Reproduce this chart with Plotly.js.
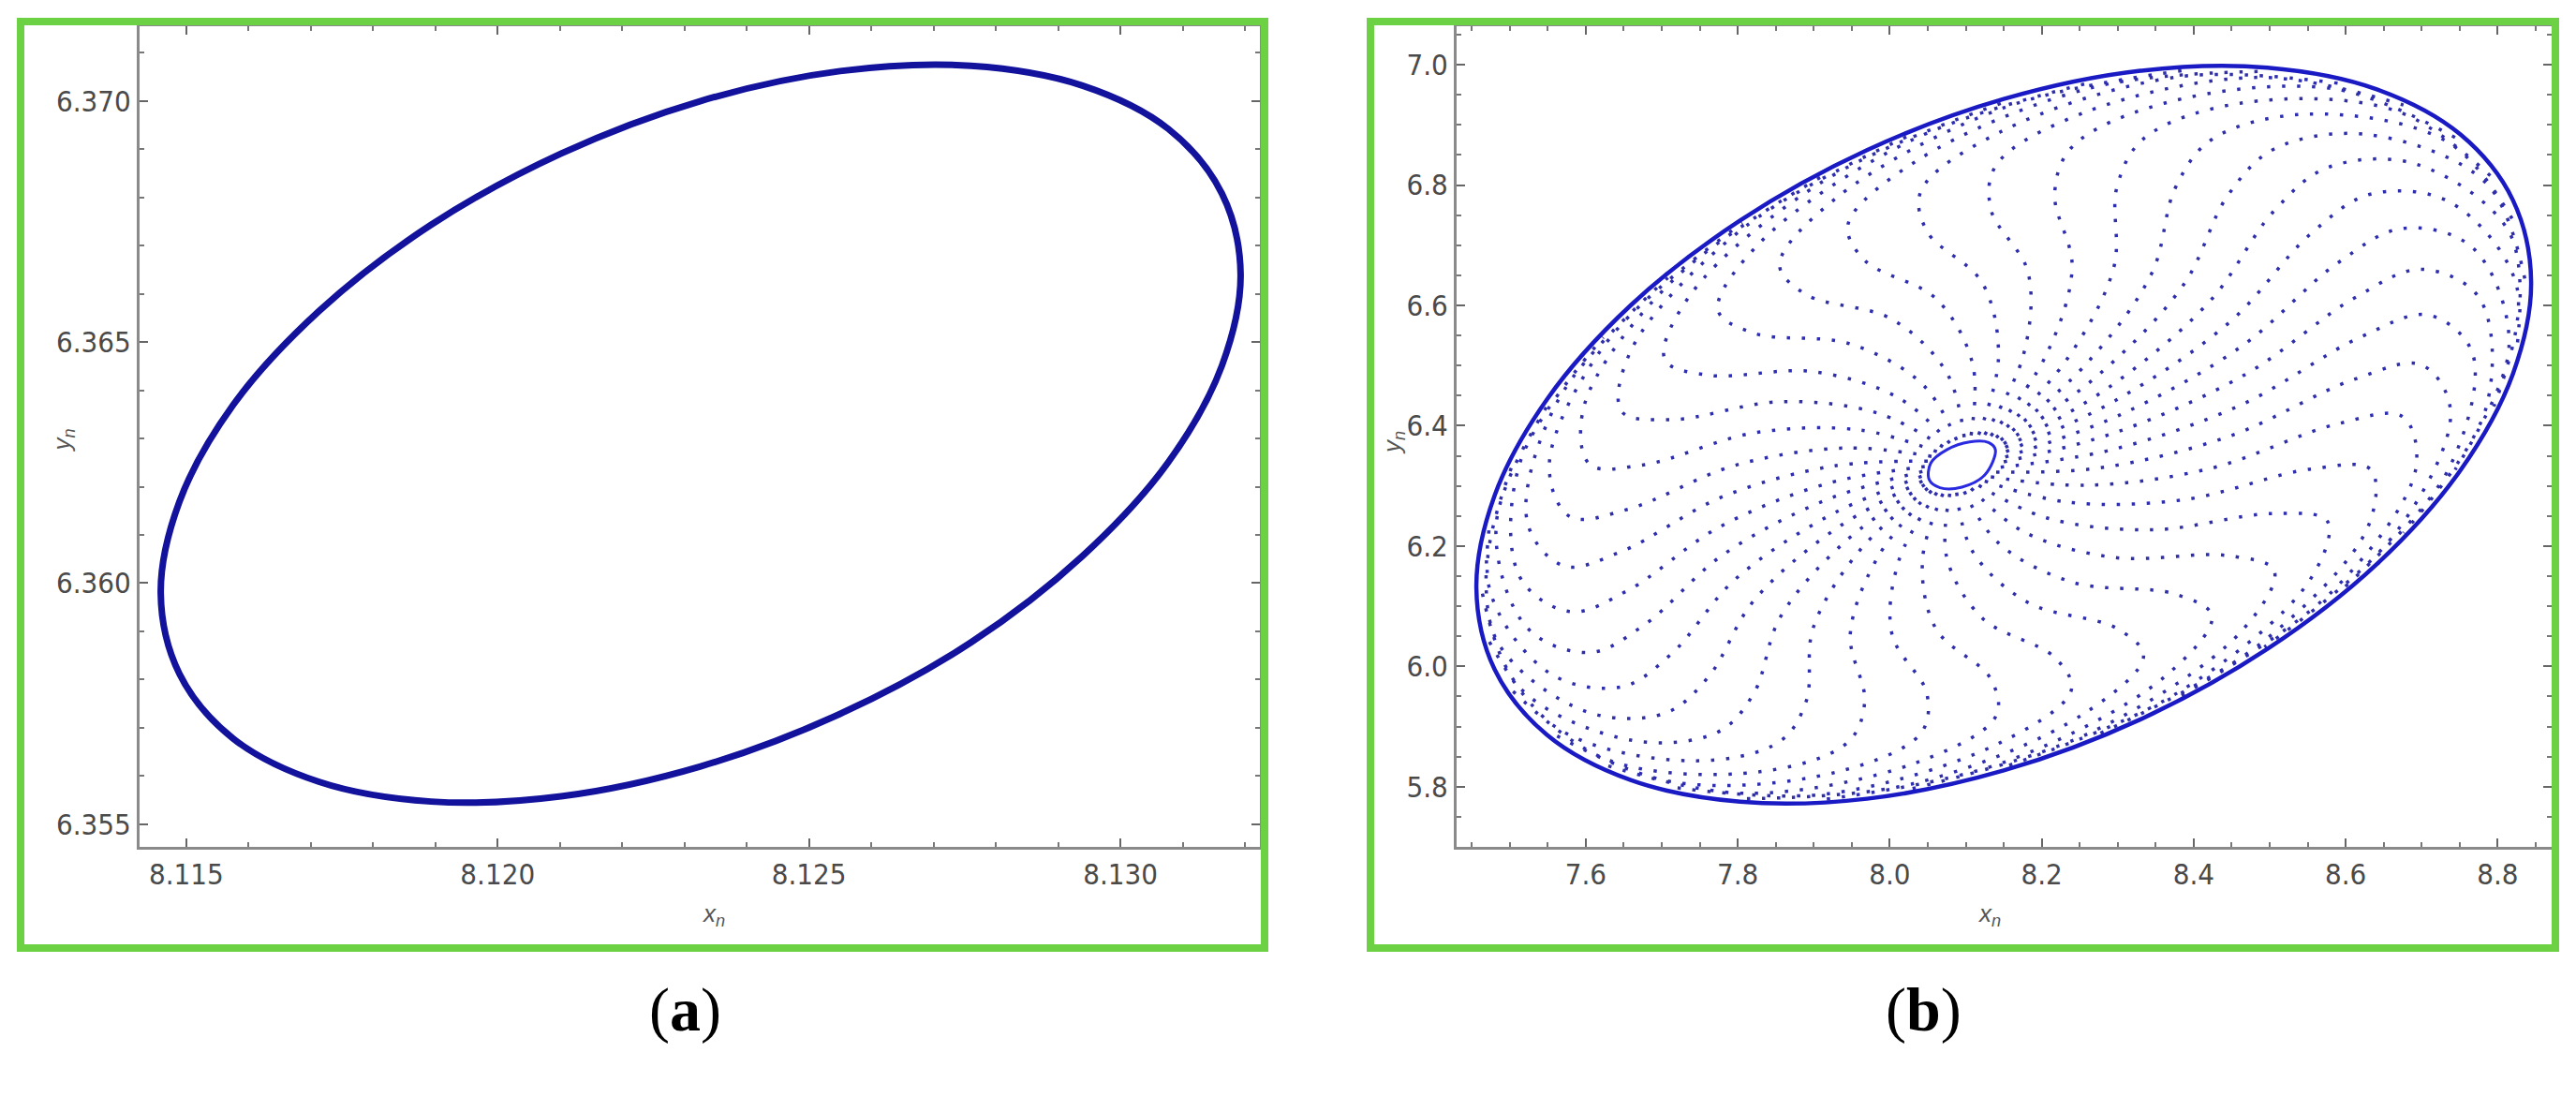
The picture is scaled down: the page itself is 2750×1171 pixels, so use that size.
<!DOCTYPE html>
<html><head><meta charset="utf-8">
<script src="https://cdn.plot.ly/plotly-3.0.1.min.js"></script>
<style>html,body{margin:0;padding:0;background:#fff;}#chart{width:2750px;height:1171px;}</style>
</head><body><div id="chart"></div>
<script>
// Panel (a): invariant closed curve
const aX = [8.13193,8.13163,8.13077,8.12939,8.12760,8.12550,8.12326,8.12102,8.11893,8.11713,8.11575,8.11489,
            8.11459,8.11489,8.11575,8.11713,8.11893,8.12102,8.12326,8.12550,8.12760,8.12939,8.13077,8.13163,8.13193];
const aY = [6.36641,6.36808,6.36942,6.37032,6.37073,6.37062,6.37000,6.36891,6.36743,6.36564,6.36369,6.36169,
            6.35979,6.35812,6.35678,6.35588,6.35547,6.35558,6.35620,6.35729,6.35877,6.36056,6.36251,6.36451,6.36641];
const aXTicks = [8.115, 8.120, 8.125, 8.130];
const aYTicks = [6.355, 6.360, 6.365, 6.370];

// Panel (b): outer closed curve
const bOuterX = [8.844,8.820,8.751,8.641,8.497,8.330,8.150,7.970,7.803,7.659,7.549,7.480,
                 7.456,7.480,7.549,7.659,7.803,7.970,8.150,8.330,8.497,8.641,8.751,8.820,8.844];
const bOuterY = [6.639,6.775,6.884,6.959,6.995,6.990,6.943,6.858,6.741,6.600,6.444,6.284,
                 6.131,5.995,5.886,5.811,5.775,5.780,5.827,5.912,6.029,6.170,6.326,6.486,6.639];
// Panel (b): the small hole round the fixed point
const bHoleX = [8.139,8.130,8.105,8.075,8.054,8.052,8.066,8.095,8.125,8.139];
const bHoleY = [6.360,6.372,6.373,6.360,6.338,6.310,6.297,6.298,6.318,6.360];
// Panel (b): spiral arms; arm k passes through step1[k], step2[k], ... step8[k] (centre -> outer curve)
const armStep1X = [8.153,8.152,8.150,8.146,8.140,8.133,8.125,8.117,8.107,8.098,8.088,8.079,8.070,8.062,8.055,8.050,8.046,8.043,8.042,8.043,8.046,8.050,8.055,8.062,8.070,8.079,8.088,8.098,8.107,8.117,8.125,8.133,8.140,8.146,8.150,8.152];
const armStep1Y = [6.357,6.364,6.370,6.376,6.380,6.383,6.385,6.385,6.384,6.381,6.376,6.371,6.365,6.357,6.349,6.341,6.332,6.324,6.316,6.308,6.302,6.296,6.292,6.289,6.287,6.287,6.289,6.291,6.296,6.301,6.308,6.315,6.323,6.331,6.340,6.348];
const armStep2X = [8.300,8.292,8.277,8.258,8.234,8.206,8.176,8.143,8.109,8.075,8.043,8.012,7.984,7.960,7.941,7.926,7.918,7.915,7.918,7.926,7.941,7.960,7.984,8.012,8.043,8.075,8.109,8.143,8.176,8.206,8.234,8.258,8.277,8.292,8.300,8.303];
const armStep2Y = [6.444,6.467,6.487,6.502,6.512,6.518,6.518,6.513,6.503,6.488,6.469,6.446,6.421,6.393,6.363,6.333,6.304,6.276,6.249,6.226,6.207,6.192,6.181,6.176,6.176,6.181,6.191,6.205,6.224,6.247,6.273,6.301,6.330,6.360,6.390,6.418];
const armStep3X = [8.448,8.422,8.387,8.345,8.295,8.240,8.182,8.122,8.061,8.003,7.948,7.899,7.856,7.821,7.796,7.780,7.775,7.780,7.796,7.821,7.856,7.899,7.948,8.003,8.061,8.122,8.182,8.240,8.295,8.345,8.387,8.422,8.448,8.463,8.469,8.463];
const armStep3Y = [6.573,6.608,6.635,6.654,6.664,6.664,6.655,6.637,6.611,6.577,6.536,6.490,6.440,6.388,6.334,6.282,6.231,6.185,6.144,6.109,6.082,6.063,6.053,6.053,6.062,6.080,6.106,6.140,6.181,6.227,6.277,6.329,6.383,6.435,6.486,6.532];
const armStep4X = [8.554,8.505,8.445,8.376,8.299,8.217,8.133,8.049,7.967,7.890,7.821,7.761,7.712,7.676,7.655,7.647,7.655,7.676,7.712,7.761,7.821,7.890,7.967,8.049,8.133,8.217,8.299,8.376,8.445,8.505,8.554,8.589,8.611,8.619,8.611,8.589];
const armStep4Y = [6.719,6.756,6.783,6.796,6.797,6.785,6.760,6.723,6.675,6.618,6.554,6.484,6.410,6.335,6.261,6.191,6.126,6.068,6.020,5.982,5.955,5.942,5.941,5.954,5.979,6.015,6.063,6.120,6.184,6.254,6.328,6.403,6.477,6.547,6.612,6.670];
const armStep5X = [8.633,8.576,8.506,8.424,8.334,8.239,8.140,8.041,7.945,7.855,7.774,7.704,7.647,7.605,7.579,7.571,7.579,7.605,7.647,7.704,7.774,7.855,7.945,8.041,8.140,8.239,8.334,8.424,8.506,8.576,8.633,8.675,8.700,8.709,8.700,8.675];
const armStep5Y = [6.785,6.829,6.860,6.876,6.877,6.862,6.833,6.790,6.734,6.667,6.592,6.510,6.424,6.336,6.249,6.167,6.091,6.023,5.966,5.922,5.891,5.875,5.874,5.889,5.918,5.961,6.017,6.084,6.159,6.241,6.327,6.415,6.501,6.584,6.660,6.728];
const armStep6X = [8.738,8.692,8.629,8.551,8.461,8.361,8.255,8.145,8.035,7.929,7.829,7.739,7.661,7.598,7.552,7.523,7.513,7.523,7.552,7.598,7.661,7.739,7.829,7.929,8.035,8.145,8.255,8.361,8.461,8.551,8.629,8.692,8.738,8.767,8.776,8.767];
const armStep6Y = [6.771,6.835,6.884,6.918,6.936,6.936,6.920,6.888,6.840,6.778,6.704,6.620,6.529,6.434,6.336,6.240,6.149,6.064,5.989,5.926,5.877,5.843,5.825,5.824,5.840,5.873,5.921,5.982,6.056,6.140,6.231,6.327,6.424,6.520,6.612,6.696];
const armStep7X = [8.825,8.815,8.785,8.735,8.667,8.584,8.487,8.380,8.266,8.149,8.031,7.917,7.810,7.714,7.630,7.563,7.513,7.482,7.472,7.482,7.513,7.563,7.630,7.714,7.810,7.917,8.031,8.149,8.266,8.380,8.487,8.584,8.667,8.735,8.785,8.815];
const armStep7Y = [6.632,6.722,6.803,6.871,6.923,6.960,6.979,6.980,6.962,6.928,6.876,6.810,6.731,6.641,6.543,6.441,6.337,6.234,6.136,6.045,5.965,5.897,5.844,5.808,5.789,5.788,5.805,5.840,5.891,5.957,6.037,6.127,6.224,6.327,6.431,6.534];
const armStep8X = [8.795,8.826,8.837,8.826,8.795,8.744,8.676,8.591,8.493,8.384,8.269,8.149,8.030,7.914,7.806,7.708,7.623,7.554,7.504,7.473,7.462,7.473,7.504,7.554,7.623,7.708,7.806,7.914,8.030,8.149,8.269,8.384,8.493,8.591,8.676,8.744];
const armStep8Y = [6.432,6.537,6.636,6.729,6.810,6.879,6.933,6.969,6.989,6.990,6.972,6.937,6.885,6.817,6.737,6.646,6.547,6.443,6.337,6.232,6.133,6.041,5.959,5.890,5.837,5.800,5.780,5.779,5.797,5.832,5.884,5.952,6.032,6.123,6.222,6.327];
const bXTicks = [7.6, 7.8, 8.0, 8.2, 8.4, 8.6, 8.8];
const bYTicks = [5.8, 6.0, 6.2, 6.4, 6.6, 6.8, 7.0];

const W = 2750, H = 1171;
const px = v => v / W, py = v => 1 - v / H;
const tickFont = {family: 'Liberation Sans Narrow, Arial Narrow, DejaVu Sans Condensed, Liberation Sans, Arial', size: 31, color: '#4a4a4a'};

function axis(domain, range, vals, fmt, minorStep, anchor) {
  return {
    domain: domain, range: range, anchor: anchor, tickvals: vals, ticktext: vals.map(v => v.toFixed(fmt)),
    ticks: 'inside', ticklen: 9, tickwidth: 2, tickcolor: '#666',
    showline: true, linecolor: '#8a8a8a', linewidth: 3, mirror: 'allticks',
    showgrid: false, zeroline: false, tickfont: tickFont,
    minor: {dtick: minorStep, ticks: 'inside', ticklen: 5, tickwidth: 2, tickcolor: '#777', showgrid: false},
    fixedrange: true
  };
}

const stepsX = [armStep1X, armStep2X, armStep3X, armStep4X, armStep5X, armStep6X, armStep7X, armStep8X];
const stepsY = [armStep1Y, armStep2Y, armStep3Y, armStep4Y, armStep5Y, armStep6Y, armStep7Y, armStep8Y];
const traces = [
  {x: aX, y: aY, xaxis: 'x', yaxis: 'y', mode: 'lines', line: {color: '#12129c', width: 7, shape: 'spline'}, hoverinfo: 'skip'}
];
for (let k = 0; k < armStep1X.length; k++) {
  traces.push({x: stepsX.map(s => s[k]), y: stepsY.map(s => s[k]), xaxis: 'x2', yaxis: 'y2', mode: 'lines',
    line: {color: '#2e2eac', width: 3.5, shape: 'spline', smoothing: 1, dash: '3.5px,12.5px'}, hoverinfo: 'skip'});
}
traces.push({x: bOuterX, y: bOuterY, xaxis: 'x2', yaxis: 'y2', mode: 'lines', line: {color: '#1a1ac4', width: 4.5, shape: 'spline'}, hoverinfo: 'skip'});
traces.push({x: bHoleX, y: bHoleY, xaxis: 'x2', yaxis: 'y2', mode: 'lines', line: {color: '#2a2ae0', width: 3, shape: 'spline'}, hoverinfo: 'skip'});

const green = '#6cd244';
const layout = {
  width: W, height: H, margin: {l: 0, r: 0, t: 0, b: 0},
  paper_bgcolor: '#fff', plot_bgcolor: '#fff', showlegend: false,
  xaxis: axis([px(149), px(1345)], [8.11425, 8.13224], aXTicks, 3, 0.001, 'y'),
  yaxis: axis([py(904), py(28)], [6.35453, 6.37155], aYTicks, 3, 0.001, 'x'),
  xaxis2: axis([px(1555), px(2724)], [7.430, 8.871], bXTicks, 1, 0.05, 'y2'),
  yaxis2: axis([py(904), py(28)], [5.700, 7.064], bYTicks, 1, 0.05, 'x2'),
  shapes: [
    {type: 'rect', xref: 'paper', yref: 'paper', x0: px(22), x1: px(1350), y0: py(1012), y1: py(23), line: {color: green, width: 8}},
    {type: 'rect', xref: 'paper', yref: 'paper', x0: px(1463), x1: px(2728), y0: py(1012), y1: py(23), line: {color: green, width: 8}}
  ],
  annotations: [
    {xref: 'paper', yref: 'paper', x: px(747), y: py(995), text: '<i>x<sub>n</sub></i>', showarrow: false, font: {family: 'Liberation Sans', size: 26, color: '#555'}},
    {xref: 'paper', yref: 'paper', x: px(2138), y: py(995), text: '<i>x<sub>n</sub></i>', showarrow: false, font: {family: 'Liberation Sans', size: 26, color: '#555'}},
    {xref: 'paper', yref: 'paper', x: px(48), y: py(470), text: '<i>y<sub>n</sub></i>', textangle: -90, showarrow: false, font: {family: 'Liberation Sans', size: 26, color: '#555'}},
    {xref: 'paper', yref: 'paper', x: px(1487), y: py(473), text: '<i>y<sub>n</sub></i>', textangle: -90, showarrow: false, font: {family: 'Liberation Sans', size: 26, color: '#555'}},
    {xref: 'paper', yref: 'paper', x: px(691), y: py(1117), text: '(<b>a</b>)', showarrow: false, font: {family: 'Liberation Serif', size: 66, color: '#000'}},
    {xref: 'paper', yref: 'paper', x: px(2096), y: py(1117), text: '(<b>b</b>)', showarrow: false, font: {family: 'Liberation Serif', size: 66, color: '#000'}}
  ]
};
Plotly.newPlot('chart', traces, layout, {staticPlot: true, displayModeBar: false});
</script></body></html>
